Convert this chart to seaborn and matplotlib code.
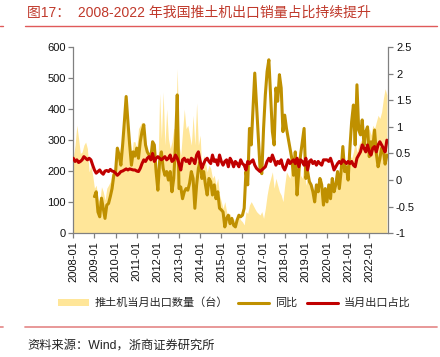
import numpy as np
import pandas as pd
import matplotlib
matplotlib.use("Agg")
import matplotlib.pyplot as plt
import seaborn as sns
from matplotlib.patches import Patch
from matplotlib.lines import Line2D

# ---------------- data (monthly, 2008-01 .. 2022-11) ----------------
export_qty = [
    246, 284, 348, 305, 257, 262, 284, 294, 273, 198, 219, 187,   # 2008
    145, 155, 112, 102, 150, 134, 107, 145, 155, 166, 198, 182,   # 2009
    241, 273, 252, 284, 305, 337, 380, 326, 262, 241, 295, 295,   # 2010
    273, 337, 348, 359, 337, 284, 252, 241, 252, 284, 241, 220,   # 2011
    198, 450, 305, 455, 284, 400, 305, 273, 295, 337, 337, 530,   # 2012
    284, 252, 327, 400, 337, 348, 316, 284, 380, 284, 420, 284,   # 2013
    316, 198, 252, 230, 198, 220, 209, 177, 187, 155, 177, 123,   # 2014
    102, 80, 102, 70, 48, 64, 43, 48, 27, 37, 54, 43,             # 2015
    37, 27, 70, 64, 91, 102, 91, 80, 70, 64, 59, 70,              # 2016
    48, 80, 123, 155, 177, 198, 145, 177, 155, 134, 123, 102,     # 2017
    155, 198, 187, 177, 252, 198, 177, 166, 252, 187, 177, 230,   # 2018
    155, 177, 166, 145, 134, 112, 134, 155, 166, 177, 112, 134,   # 2019
    102, 123, 112, 134, 155, 145, 166, 177, 187, 220, 198, 209,   # 2020
    230, 252, 241, 262, 295, 262, 284, 295, 305, 284, 305, 327,   # 2021
    337, 316, 348, 337, 359, 380, 370, 391, 434, 466, 445,        # 2022
]
yoy = [np.nan] * 12 + [
    -0.31, -0.22, -0.60, -0.69, -0.34, -0.53, -0.72, -0.47, -0.44, -0.31, -0.16, 0.09,  # 2009
    0.16, 0.60, 0.47, 0.28, 0.66, 1.10, 1.57, 1.10, 0.66, 0.28, 0.53, 0.45,             # 2010
    0.60, 0.41, 0.72, 0.91, 1.04, 0.66, 0.53, 0.47, 0.41, 0.72, 0.66, 0.16,             # 2011
    -0.19, 0.35, 0.53, 0.22, 0.09, 0.16, 0.00, 0.16, -0.22, 0.03, 0.66, 1.60,           # 2012
    -0.16, -0.13, -0.35, -0.22, -0.16, -0.19, -0.06, 0.16, 0.03, -0.53, -0.09, 0.22,    # 2013
    0.35, 0.03, 0.16, -0.09, -0.28, 0.03, -0.03, -0.28, -0.09, -0.35, -0.22, -0.53,     # 2014
    -0.56, -0.60, -0.88, -0.72, -0.66, -0.82, -0.72, -0.85, -0.88, -0.75, -0.66, -0.69, # 2015
    -0.66, -0.53, 0.16, -0.09, 0.97, 0.66, 1.35, 2.01, 1.41, 0.78, 0.22, 0.12,          # 2016
    0.97, 1.60, 2.04, 2.26, 1.60, 0.91, 0.66, 1.73, 1.48, 1.98, 1.73, 0.91,             # 2017
    1.22, 0.97, 0.78, 0.60, 0.41, 0.09, 0.53, -0.28, 0.16, 0.47, 0.72, 0.97,            # 2018
    0.03, 0.16, -0.03, -0.09, -0.22, -0.41, -0.09, -0.22, 0.03, -0.09, -0.47, -0.16,    # 2019
    -0.41, -0.09, -0.35, 0.03, -0.22, -0.09, 0.16, -0.16, 0.16, 0.63, 0.16, 0.25,       # 2020
    0.00, 0.60, 1.10, 1.41, 0.66, 1.79, 0.94, 0.85, 1.13, 0.66, 0.91, 1.00,             # 2021
    0.44, 0.72, 0.60, 0.94, 0.50, 0.25, 0.40, 0.60, 0.56, 0.30, 0.47,                  # 2022
]
share = [
    0.41, 0.35, 0.38, 0.33, 0.35, 0.38, 0.44, 0.41, 0.38, 0.41, 0.38, 0.28,  # 2008
    0.19, 0.13, 0.16, 0.19, 0.14, 0.11, 0.17, 0.18, 0.16, 0.20, 0.17, 0.16,  # 2009
    0.13, 0.09, 0.12, 0.16, 0.17, 0.19, 0.21, 0.19, 0.21, 0.20, 0.19, 0.19,  # 2010
    0.17, 0.16, 0.22, 0.31, 0.38, 0.35, 0.41, 0.44, 0.38, 0.50, 0.35, 0.41,  # 2011
    0.44, 0.41, 0.38, 0.41, 0.44, 0.38, 0.41, 0.47, 0.35, 0.38, 0.47, 0.41,  # 2012
    0.31, 0.19, 0.38, 0.41, 0.35, 0.38, 0.31, 0.41, 0.38, 0.31, 0.47, 0.53,  # 2013
    0.35, 0.22, 0.31, 0.38, 0.41, 0.35, 0.31, 0.47, 0.35, 0.38, 0.28, 0.47,  # 2014
    0.35, 0.28, 0.35, 0.38, 0.25, 0.41, 0.35, 0.25, 0.35, 0.31, 0.25, 0.38,  # 2015
    0.31, 0.28, 0.19, 0.35, 0.31, 0.35, 0.38, 0.28, 0.22, 0.19, 0.16, 0.19,  # 2016
    0.22, 0.25, 0.35, 0.41, 0.35, 0.47, 0.38, 0.28, 0.35, 0.31, 0.38, 0.25,  # 2017
    0.19, 0.28, 0.38, 0.31, 0.35, 0.38, 0.31, 0.41, 0.25, 0.38, 0.35, 0.28,  # 2018
    0.41, 0.19, 0.35, 0.38, 0.31, 0.35, 0.28, 0.35, 0.31, 0.28, 0.38, 0.38,  # 2019
    0.38, 0.35, 0.41, 0.31, 0.19, 0.25, 0.31, 0.35, 0.31, 0.38, 0.35, 0.31,  # 2020
    0.35, 0.31, 0.35, 0.28, 0.25, 0.41, 0.47, 0.53, 0.66, 0.60, 0.53, 0.66,  # 2021
    0.53, 0.47, 0.60, 0.63, 0.53, 0.66, 0.72, 0.66, 0.60, 0.53, 0.75,        # 2022
]
tick_labels = [f"{y}-01" for y in range(2008, 2023)]
left_ticks = [0, 100, 200, 300, 400, 500, 600]
right_ticks = [-1, -0.5, 0, 0.5, 1, 1.5, 2, 2.5]
right_labels = ["-1", "-0.5", "0", "0.5", "1", "1.5", "2", "2.5"]

title = "图17：  2008-2022 年我国推土机出口销量占比持续提升"
source = "资料来源：Wind，浙商证券研究所"
legend_labels = ["推土机当月出口数量（台）", "同比", "当月出口占比"]

# ---------------- styling ----------------
sns.set_theme(style="ticks")
plt.rcParams['font.family'] = ['Liberation Sans', 'Noto Sans CJK SC', 'DejaVu Sans']

C_AREA = "#FFE699"
C_GOLD = "#BF9000"
C_RED = "#C00000"
C_AX = "#808080"

df = pd.DataFrame({"m": np.arange(len(export_qty)), "qty": export_qty,
                   "yoy": yoy, "share": share})

fig = plt.figure(figsize=(4.4, 3.57), dpi=100)
ax = fig.add_axes([73.3 / 440, 1 - 233.3 / 357, 315 / 440, 186.3 / 357])
ax.fill_between(df["m"], 0, df["qty"], color=C_AREA, lw=0, zorder=1)
ax2 = ax.twinx()
sns.lineplot(data=df, x="m", y="yoy", ax=ax2, color=C_GOLD, lw=2.2)
sns.lineplot(data=df, x="m", y="share", ax=ax2, color=C_RED, lw=2.2)

ax.set_xlim(0, 178.8)
ax.set_ylim(0, 600)
ax2.set_ylim(-1, 2.5)
ax.set_xticks(np.arange(0, 180, 12))
ax.set_xticklabels(tick_labels, rotation=90, fontsize=8)
ax.set_yticks(left_ticks)
ax.set_yticklabels([str(v) for v in left_ticks], fontsize=8)
ax2.set_yticks(right_ticks)
ax2.set_yticklabels(right_labels, fontsize=8)
for a in (ax, ax2):
    a.set_xlabel("")
    a.set_ylabel("")
    a.spines["top"].set_visible(False)
    for s in a.spines.values():
        s.set_color(C_AX)
        s.set_linewidth(0.9)
    a.tick_params(colors=C_AX, labelcolor="#111111", length=3.5, width=0.9, pad=2)
ax.spines["right"].set_visible(False)
ax2.spines["left"].set_visible(False)
ax2.spines["bottom"].set_visible(False)

# title and decorations
fig.text(27 / 440, 1 - 12.5 / 357, title, color="#C0392B", fontsize=10, va="center", ha="left")
fig.add_artist(Line2D([25 / 440, 437 / 440], [1 - 25.5 / 357] * 2, color="#E05A5A", lw=1.0))
fig.add_artist(Line2D([0, 3 / 440], [1 - 25.5 / 357] * 2, color="#E05A5A", lw=1.0))
fig.add_artist(Line2D([25 / 440, 437 / 440], [1 - 326.7 / 357] * 2, color="#E69090", lw=1.3))
fig.add_artist(Line2D([0, 3 / 440], [1 - 326.7 / 357] * 2, color="#E69090", lw=1.3))
fig.text(27 / 440, 1 - 346 / 357, source, color="#222222", fontsize=8.8, va="center", ha="left")

handles = [Patch(facecolor=C_AREA, edgecolor="none"),
           Line2D([0], [0], color=C_GOLD, lw=2.2),
           Line2D([0], [0], color=C_RED, lw=2.2)]
fig.legend(handles, legend_labels, loc="center", bbox_to_anchor=(234 / 440, 1 - 303 / 357),
           ncol=3, frameon=False, fontsize=8, handlelength=2.8, handleheight=0.6,
           columnspacing=0.9, handletextpad=0.5)

fig.savefig("out.png", dpi=100)
